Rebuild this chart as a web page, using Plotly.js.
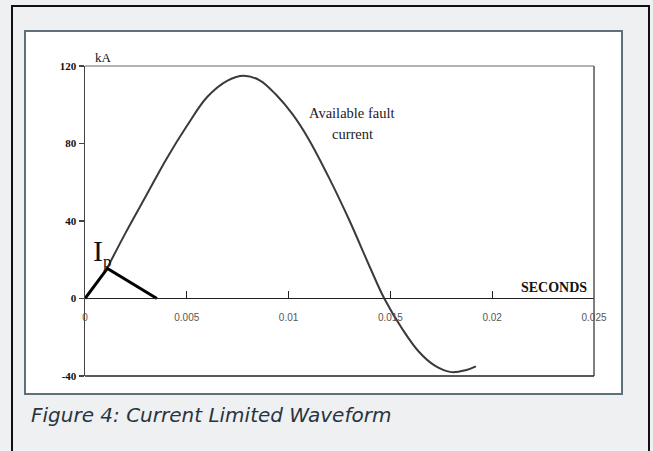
<!DOCTYPE html>
<html>
<head>
<meta charset="utf-8">
<script src="https://cdn.plot.ly/plotly-3.0.1.min.js"></script>
<style>
  html, body { margin: 0; padding: 0; background: #eff0f2; overflow: hidden; }
  .outerbox { position: absolute; left: 11px; top: 5px; width: 635px; height: 470px;
           border-left: 2px solid #111; border-top: 2px solid #111; border-right: 2px solid #111; }
  .innerpanel { position: absolute; left: 24px; top: 30px; width: 595px; height: 361px;
           border: 2px solid #5e717b; background: #ffffff; }
  #chart { position: absolute; left: 0; top: 0; width: 653px; height: 451px; }
</style>
</head>
<body>
<div class="outerbox"></div>
<div class="innerpanel"></div>
<div id="chart"></div>
<script>
// Available fault current (seconds, kA)
const faultTime = [0.00108, 0.002, 0.003, 0.004, 0.005, 0.006, 0.007, 0.0078, 0.0086, 0.0094,
                   0.0102, 0.011, 0.012, 0.013, 0.014, 0.0147, 0.0156, 0.0164, 0.0172, 0.018,
                   0.0187, 0.0192];
const faultKA   = [15.5, 34, 53, 72, 89, 104, 112.5, 115, 112.5, 105,
                   95, 82, 62, 40, 16, 0, -16, -27.5, -34.8, -38,
                   -37, -35];
// Current-limited (let-through) waveform
const limitedTime = [0, 0.0011, 0.00353];
const limitedKA   = [0, 15.5, 0];
// Axis ticks
const xTicks = [0, 0.005, 0.01, 0.015, 0.02, 0.025];
const xTickText = ['0', '0.005', '0.01', '0.015', '0.02', '0.025'];
const yTicks = [-40, 0, 40, 80, 120];
const yTickText = ['-40', '0', '40', '80', '120'];

const traces = [
  { x: faultTime, y: faultKA, type: 'scatter', mode: 'lines',
    line: { color: '#3a3a3a', width: 2, shape: 'spline', smoothing: 1 }, hoverinfo: 'skip' },
  { x: limitedTime, y: limitedKA, type: 'scatter', mode: 'lines',
    line: { color: '#000000', width: 3 }, hoverinfo: 'skip' }
];

const serif = 'Liberation Serif, Times New Roman, serif';

const layout = {
  width: 653, height: 451,
  margin: { l: 85, r: 59, t: 66, b: 75 },
  paper_bgcolor: 'rgba(0,0,0,0)',
  plot_bgcolor: 'rgba(0,0,0,0)',
  showlegend: false,
  xaxis: {
    range: [0, 0.025], tickvals: xTicks, ticktext: xTickText,
    anchor: 'free', position: 0.2516,
    showline: true, linecolor: '#222', linewidth: 1.3,
    ticks: 'inside', ticklen: 7, tickcolor: '#222', tickwidth: 1.3,
    ticklabelstandoff: 10,
    showgrid: false, zeroline: false,
    tickfont: { family: 'Liberation Sans, Arial, sans-serif', size: 10, color: '#555' }
  },
  yaxis: {
    range: [-40, 120], tickvals: yTicks, ticktext: yTickText,
    showline: true, linecolor: '#444', linewidth: 1.5,
    ticks: 'outside', ticklen: 5, tickcolor: '#444', tickwidth: 1.3,
    showgrid: false, zeroline: false,
    tickfont: { family: serif, size: 11, color: '#111', weight: 'bold' }
  },
  shapes: [
    { type: 'line', xref: 'paper', yref: 'paper', x0: 0, x1: 1, y0: 1, y1: 1,
      line: { color: '#9a9a9a', width: 1.5 } },
    { type: 'line', xref: 'paper', yref: 'paper', x0: 1, x1: 1, y0: 0, y1: 1,
      line: { color: '#555', width: 1.5 } },
    { type: 'line', xref: 'paper', yref: 'paper', x0: 0, x1: 1, y0: 0, y1: 0,
      line: { color: '#222', width: 1.5 } }
  ],
  annotations: [
    { text: 'kA', xref: 'paper', yref: 'paper', x: 0.0157, y: 1.029, xanchor: 'left', yanchor: 'middle',
      showarrow: false, font: { family: serif, size: 13, color: '#111' } },
    { text: 'Available fault', xref: 'paper', yref: 'paper', x: 0.5246, y: 0.848, xanchor: 'center', yanchor: 'middle',
      showarrow: false, font: { family: serif, size: 14.5, color: '#222' } },
    { text: 'current', xref: 'paper', yref: 'paper', x: 0.5246, y: 0.780, xanchor: 'center', yanchor: 'middle',
      showarrow: false, font: { family: serif, size: 14.5, color: '#222' } },
    { text: 'SECONDS', xref: 'paper', yref: 'paper', x: 0.9214, y: 0.287, xanchor: 'center', yanchor: 'middle',
      showarrow: false, font: { family: serif, size: 14, color: '#111', weight: 'bold' } },
    { text: 'I', xref: 'paper', yref: 'paper', x: 0.0118, y: 0.405,
      xanchor: 'left', yanchor: 'middle',
      showarrow: false, font: { family: serif, size: 30, color: '#111' } },
    { text: 'p', xref: 'paper', yref: 'paper', x: 0.032, y: 0.37,
      xanchor: 'left', yanchor: 'middle',
      showarrow: false, font: { family: serif, size: 17, color: '#111' } },
    { text: 'Figure 4: Current Limited Waveform', xref: 'paper', yref: 'paper', x: -0.11, y: -0.127,
      xanchor: 'left', yanchor: 'middle', showarrow: false,
      font: { family: 'DejaVu Sans, sans-serif', size: 20, color: '#2a3440', style: 'italic' } }
  ]
};

Plotly.newPlot('chart', traces, layout, { displayModeBar: false, staticPlot: true });
</script>
</body>
</html>
